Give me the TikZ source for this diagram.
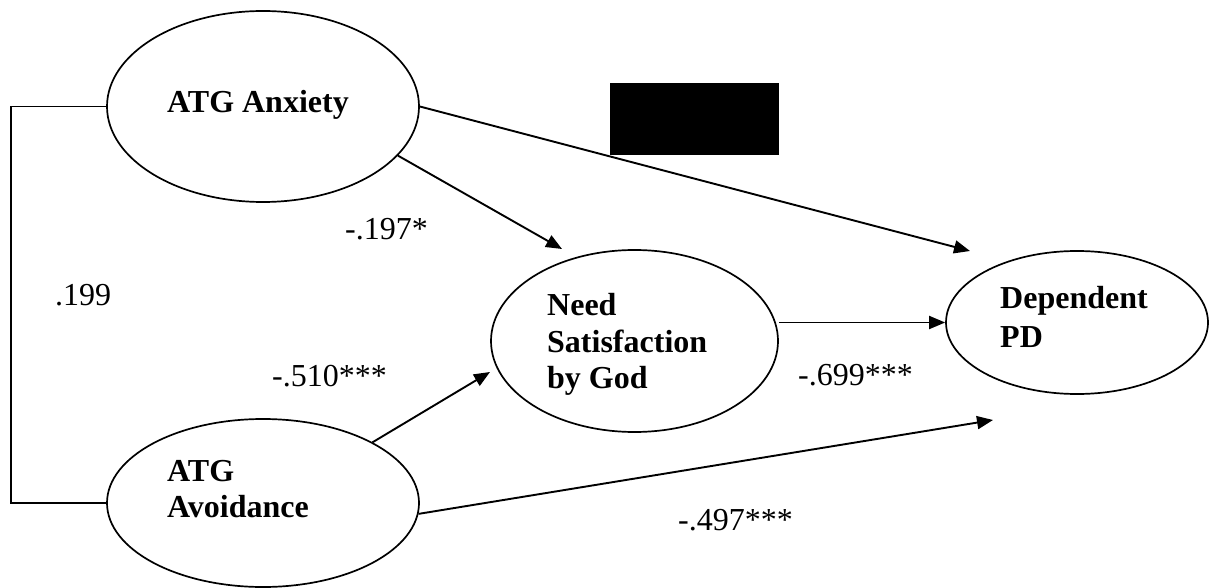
\documentclass[tikz,border=0pt]{standalone}
\usepackage{fontspec}
\setmainfont{Liberation Serif}
\usetikzlibrary{arrows.meta,shapes.geometric}
\begin{document}
\begin{tikzpicture}[x=1pt,y=-1pt,
  construct/.style={draw,ellipse,line width=1.7pt,inner sep=0pt},
  arr/.style={line width=1.9pt,-{Triangle[length=16pt,width=13pt]}},
  conn/.style={line width=1.7pt},
  lbl/.style={anchor=base west,inner sep=0pt,font=\fontsize{32}{38}\selectfont},
  ctext/.style={anchor=base west,inner sep=0pt,font=\fontsize{32}{38}\selectfont\bfseries,align=left}]
\useasboundingbox (0,0) rectangle (1210,588);
% constructs
\node[construct,minimum width=312pt,minimum height=191pt] (anx) at (263,106.5) {};
\node[construct,minimum width=312pt,minimum height=168pt] (av) at (263,503) {};
\node[construct,minimum width=287pt,minimum height=182pt] (need) at (634.5,341) {};
\node[construct,minimum width=262pt,minimum height=143pt] (dep) at (1077,322.5) {};
% texts
\node[ctext] (tanx) at (167,113) {ATG Anxiety};
\node[ctext] (tav1) at (167,481) {ATG};
\node[ctext] (tav2) at (167,517) {Avoidance};
\node[ctext] (tn1) at (547,315) {Need};
\node[ctext] (tn2) at (547,352) {Satisfaction};
\node[ctext] (tn3) at (547,388) {by God};
\node[ctext] (td1) at (1000,308) {Dependent};
\node[ctext] (td2) at (1000,347) {PD};
% black box
\node[fill=black,minimum width=169pt,minimum height=72pt,inner sep=0pt,anchor=north west] (blk) at (610,83) {};
% arrow tips
\coordinate (tipAD) at (970,251);
\coordinate (tipAN) at (562,249);
\coordinate (tipVN) at (490,372);
\coordinate (tipVD) at (993,420);
\coordinate (bl) at (11,300);
% connectors
\draw[conn] (anx.west) -- (anx.west -| bl) |- (av.west);
\draw[arr] (anx.east) -- (tipAD);
\draw[arr] (anx.-20) -- (tipAN);
\draw[arr] (av.29) -- (tipVN);
\draw[arr] (av.-4.5) -- (tipVD);
\draw[arr] (need.east |- dep.west) -- (dep.west);
% labels
\node[lbl] (l1) at (345,240) {-.197*};
\node[lbl] (l2) at (55,305) {.199};
\node[lbl] (l3) at (272,386) {-.510***};
\node[lbl] (l4) at (798,385) {-.699***};
\node[lbl] (l5) at (678,530) {-.497***};
\end{tikzpicture}
\end{document}
